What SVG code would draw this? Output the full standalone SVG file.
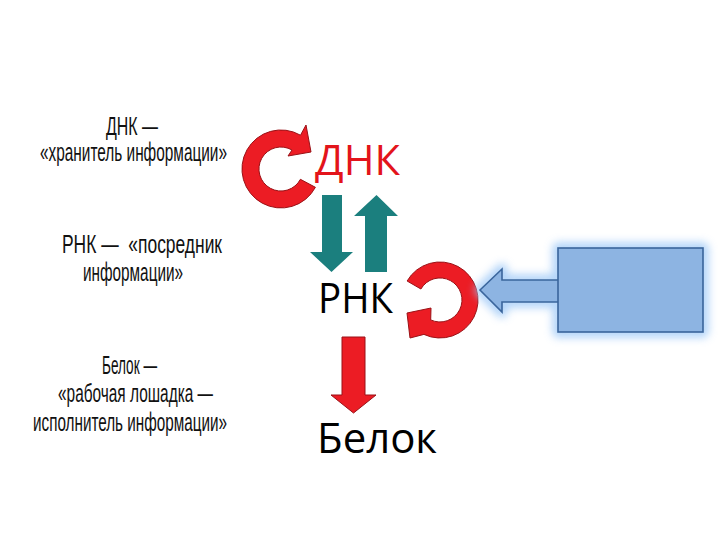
<svg xmlns="http://www.w3.org/2000/svg" width="720" height="540" viewBox="0 0 720 540">
  <style>
    .side { font-family: "Liberation Sans", Arial, sans-serif; font-size: 25px; fill: #111; white-space: pre; }
    .main { font-family: "Open Sans", "Noto Sans", sans-serif; font-size: 42px; }
    .redshape { fill: #EC1C24; stroke: #9A1116; stroke-width: 1; stroke-linejoin: round; }
    .teal { fill: #1B7F7E; }
    .blue { fill: #8DB4E2; stroke: #3A659C; stroke-width: 1.6; }
  </style>
  <defs>
    <filter id="glow" x="-20%" y="-30%" width="140%" height="160%">
      <feGaussianBlur stdDeviation="4.5"/>
    </filter>
  </defs>
  <rect width="720" height="540" fill="#ffffff"/>

  <g id="side-labels">
    <text class="side" x="106" y="135" textLength="52" lengthAdjust="spacingAndGlyphs">ДНК —</text>
    <text class="side" x="40" y="161" textLength="187" lengthAdjust="spacingAndGlyphs">«хранитель информации»</text>
    <text class="side" x="62" y="253" textLength="160" lengthAdjust="spacingAndGlyphs" xml:space="preserve">РНК —  «посредник</text>
    <text class="side" x="83" y="281" textLength="100" lengthAdjust="spacingAndGlyphs">информации»</text>
    <text class="side" x="102" y="374" textLength="55" lengthAdjust="spacingAndGlyphs">Белок —</text>
    <text class="side" x="58" y="402" textLength="155" lengthAdjust="spacingAndGlyphs">«рабочая лошадка —</text>
    <text class="side" x="33" y="431" textLength="194" lengthAdjust="spacingAndGlyphs">исполнитель информации»</text>
  </g>

  <g id="dna">
    <path class="redshape" d="M315.4,187.3 A39,39 0 1 1 300.5,135.2 L306,125 L311,152 L288,156 L292,150 A22,22 0 1 0 300.4,179.3 Z"/>
    <text class="main" x="315" y="175" fill="#E3141B" textLength="85" lengthAdjust="spacingAndGlyphs">ДНК</text>
  </g>

  <g id="rna">
    <path class="redshape" d="M407.1,281 A38,38 0 1 1 423.9,334.4 L410,338 L407,313 L431,308 L430.7,319.9 A22,22 0 1 0 420.9,289 Z"/>
    <text class="main" x="318" y="313" fill="#000" textLength="75" lengthAdjust="spacingAndGlyphs">РНК</text>
  </g>

  <g id="protein">
    <text class="main" x="317" y="453" fill="#000" textLength="120" lengthAdjust="spacingAndGlyphs">Белок</text>
  </g>

  <g id="box">
    <g filter="url(#glow)" opacity="0.8">
      <path d="M480,290 L502,269 L502,280 L558,280 L558,248 L703,248 L703,332 L558,332 L558,302 L502,302 L502,312 Z" fill="none" stroke="#9CC8F7" stroke-width="11" stroke-linejoin="round"/>
    </g>
    <path class="blue" d="M480,290 L502,269 L502,280 L560,280 L560,302 L502,302 L502,312 Z"/>
    <rect class="blue" x="558" y="248" width="145" height="84"/>
  </g>

  <g id="connectors">
    <polygon class="teal" points="322,195 342,195 342,252 353,252 331.5,272 310,252 322,252"/>
    <polygon class="teal" points="365,272 387,272 387,216 398,216 376.5,195 354,216 365,216"/>
    <polygon class="redshape" points="342,337 365,337 365,395 376,395 353.5,413 331,395 342,395"/>
  </g>
</svg>
